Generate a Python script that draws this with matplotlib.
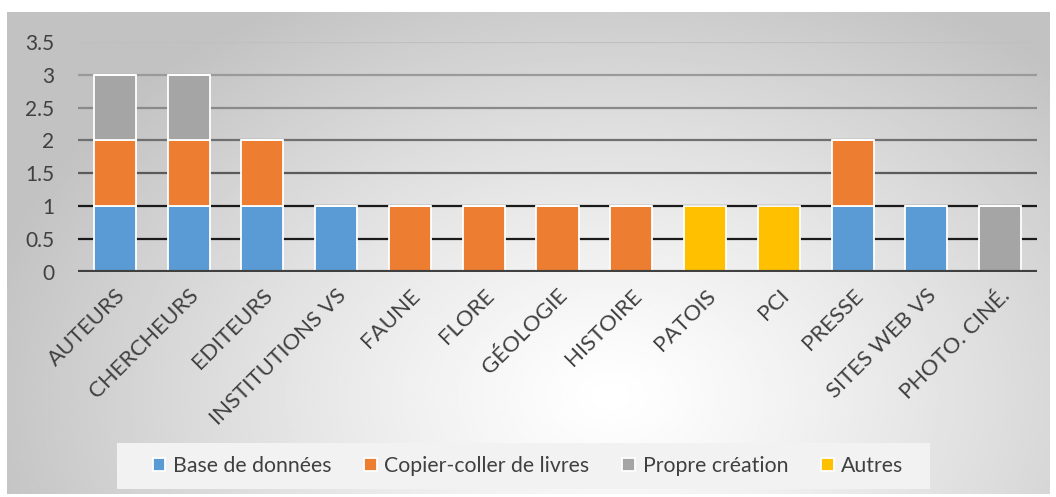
import matplotlib.pyplot as plt
import numpy as np
from matplotlib.patches import Rectangle

categories = ['AUTEURS', 'CHERCHEURS', 'EDITEURS', 'INSTITUTIONS VS', 'FAUNE', 'FLORE',
              'GÉOLOGIE', 'HISTOIRE', 'PATOIS', 'PCI', 'PRESSE', 'SITES WEB VS', 'PHOTO. CINÉ.']
base = [1, 1, 1, 1, 0, 0, 0, 0, 0, 0, 1, 1, 0]
copier = [1, 1, 1, 0, 1, 1, 1, 1, 0, 0, 1, 0, 0]
propre = [1, 1, 0, 0, 0, 0, 0, 0, 0, 0, 0, 0, 1]
autres = [0, 0, 0, 0, 0, 0, 0, 0, 1, 1, 0, 0, 0]
series = [('Base de données', base, '#5b9bd5'),
          ('Copier-coller de livres', copier, '#ed7d31'),
          ('Propre création', propre, '#a5a5a5'),
          ('Autres', autres, '#ffc000')]
yticks = [0, 0.5, 1, 1.5, 2, 2.5, 3, 3.5]
grid_colors = ['#404040', '#1a1a1a', '#1a1a1a', '#5a5a5a', '#707070', '#8a8a8a', '#9a9a9a', '#c0c0c0']

plt.rcParams['font.family'] = ['Lato', 'DejaVu Sans']

W, H = 1056, 497
fig = plt.figure(figsize=(W / 100, H / 100), dpi=100)

# radial gradient background of the chart area
bg = fig.add_axes([7 / W, 3 / H, (1050 - 7) / W, 1 - 15 / H])
bg.set_axis_off()
xx, yy = np.meshgrid(np.linspace(0, 1, 400), np.linspace(0, 1, 200))
d = np.sqrt(((xx - 0.58) / 0.62) ** 2 + ((yy - 0.8) / 0.95) ** 2)
d = np.clip(d, 0, 1)
img = 1.0 - 0.24 * d ** 1.2
bg.imshow(img, cmap='gray', vmin=0, vmax=1, aspect='auto', extent=[0, 1, 0, 1], origin='upper')
bg.set_xlim(0, 1)
bg.set_ylim(0, 1)

ax = fig.add_axes([78 / W, 1 - 271.5 / H, (1037 - 78) / W, (271.5 - 42) / H])
ax.patch.set_alpha(0)
for s in ax.spines.values():
    s.set_visible(False)

x = np.arange(len(categories))
for yv, c in zip(yticks, grid_colors):
    if yv == 0:
        continue
    ax.axhline(yv, color=c, lw=1.6, zorder=0)

bottom = np.zeros(len(categories))
handles = []
for name, vals, col in series:
    v = np.array(vals, dtype=float)
    b = ax.bar(x, v, 0.57, bottom=bottom, color=col, edgecolor='white', linewidth=1.3,
               label=name, zorder=2)
    handles.append(b)
    bottom += v

ax.axhline(0, color='#404040', lw=3, zorder=3)
ax.set_xlim(-0.5, len(categories) - 0.5)
ax.set_ylim(0, 3.5)
ax.set_yticks(yticks)
ax.set_yticklabels(['0', '0.5', '1', '1.5', '2', '2.5', '3', '3.5'], fontsize=15, color='#404040')
ax.set_xticks(x)
ax.set_xticklabels(categories, rotation=45, ha='right', rotation_mode='anchor',
                   fontsize=16, color='#404040')
ax.tick_params(length=0, pad=10)
ax.tick_params(axis='y', pad=17)

# legend box
fig.patches.append(Rectangle((117 / W, 1 - 489 / H), (930 - 117) / W, 46 / H,
                             transform=fig.transFigure, facecolor='#f2f2f2',
                             edgecolor='none', zorder=1))
leg = fig.legend(handles=handles, loc='center', bbox_to_anchor=(528 / W, 1 - 466 / H),
                 ncol=4, frameon=False, fontsize=15.3, handlelength=0.6, handleheight=0.6,
                 handletextpad=0.35, columnspacing=1.55, labelcolor='#404040')

fig.savefig('out.png', dpi=100)
